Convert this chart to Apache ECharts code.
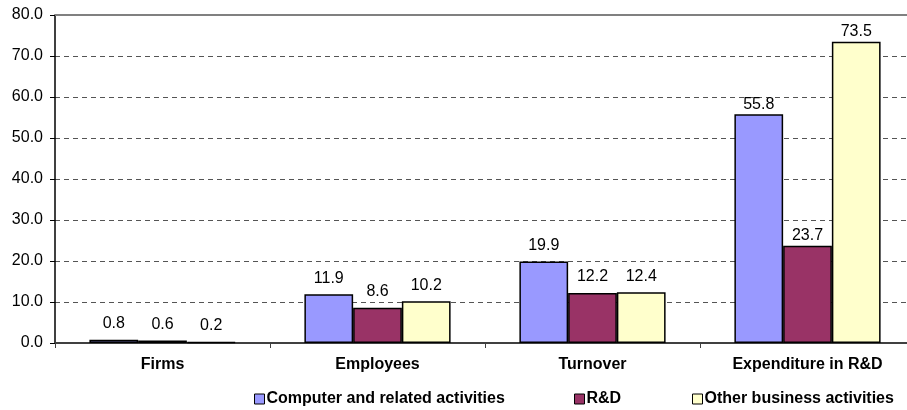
<!DOCTYPE html>
<html><head><meta charset="utf-8">
<script src="https://cdn.jsdelivr.net/npm/echarts@6/dist/echarts.min.js"></script>
<style>html,body{margin:0;padding:0;background:#fff;overflow:hidden}#c{width:907px;height:410px}</style>
</head><body><div id="c"></div>
<script>
const categories = ['Firms', 'Employees', 'Turnover', 'Expenditure in R&D'];
const seriesNames = ['Computer and related activities', 'R&D', 'Other business activities'];
const computer = [0.8, 11.9, 19.9, 55.8];
const rd = [0.6, 8.6, 12.2, 23.7];
const other = [0.2, 10.2, 12.4, 73.5];
const colors = ['#9999FF', '#993366', '#FFFFCC'];

const chart = echarts.init(document.getElementById('c'), null, {renderer: 'canvas'});
const values = [computer, rd, other];
const FONT = 'Liberation Sans, Arial, sans-serif';
const legendLefts = [254, 574, 692];
chart.setOption({
  animation: false,
  textStyle: {fontFamily: FONT},
  grid: {left: 55, right: -8, top: 15, bottom: 67, containLabel: false, outerBoundsMode: 'none'},
  legend: seriesNames.map((n, i) => ({
    top: 391, left: legendLefts[i], itemWidth: 10, itemHeight: 10, padding: 0,
    textStyle: {fontSize: 16, fontWeight: 'bold', color: '#000', fontFamily: FONT, padding: [0, 0, 0, -3]},
    data: [{name: n, icon: 'rect', itemStyle: {borderColor: '#000', borderWidth: 1}}]
  })),
  xAxis: {
    type: 'category', data: categories,
    axisLine: {lineStyle: {color: '#404040', width: 2}},
    axisTick: {show: true, alignWithLabel: false, length: 5, lineStyle: {color: '#404040'}},
    axisLabel: {fontSize: 16, fontWeight: 'bold', color: '#000', margin: 14}
  },
  yAxis: {
    type: 'value', min: 0, max: 80, interval: 10,
    axisLine: {show: true, lineStyle: {color: '#000', width: 1.5}},
    axisTick: {show: true, length: 5, lineStyle: {color: '#000'}},
    axisLabel: {fontSize: 16, color: '#000', formatter: v => v.toFixed(1), margin: 12},
    splitLine: {show: true, lineStyle: {color: '#555', type: [5, 4], width: 1}}
  },
  series: seriesNames.map((n, i) => ({
    name: n, type: 'bar',
    data: values[i].map((v, j) => j === 3 ? {value: v, label: {distance: 2}} : v),
    barGap: '0%', barCategoryGap: '32%',
    itemStyle: {color: colors[i], borderColor: '#000', borderWidth: 1.5},
    label: {show: true, position: 'top', distance: 8, fontSize: 16, color: '#000', formatter: p => p.value.toFixed(1)}
  })).concat([{
    type: 'line', data: [], markLine: {silent: true, symbol: 'none', label: {show: false},
      lineStyle: {color: '#808080', type: 'solid', width: 2}, data: [{yAxis: 80}]}
  }])
});
</script></body></html>
